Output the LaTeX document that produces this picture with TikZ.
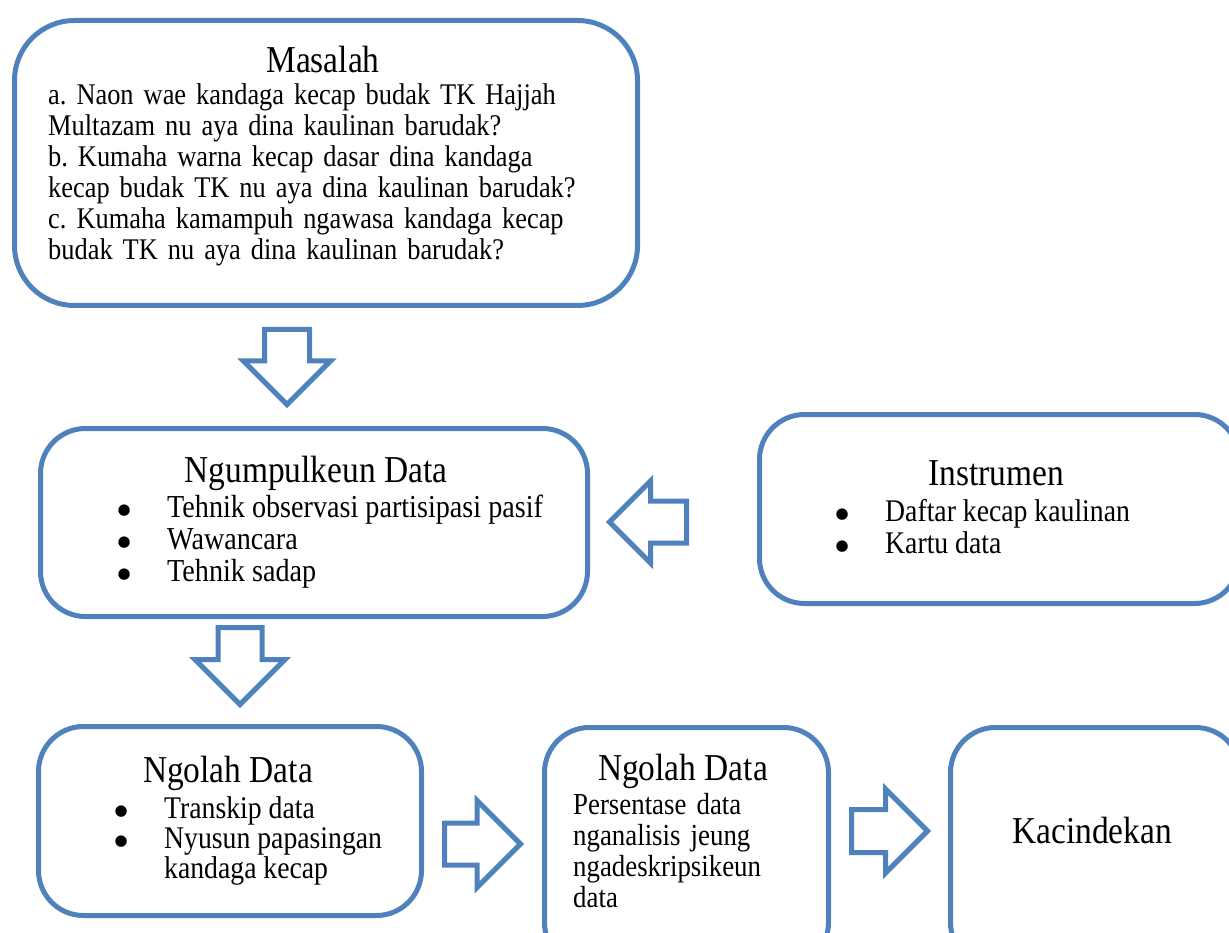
\documentclass[tikz,border=0pt]{standalone}
\usepackage{fontspec}
\setmainfont{Liberation Serif}[FakeStretch=0.88]
\newfontfamily\dotfont{DejaVu Sans}
\usetikzlibrary{shapes.arrows}
\definecolor{boxblue}{RGB}{79,129,189}

\tikzset{
	box/.style={draw=boxblue,line width=5pt,rounded corners=45pt,anchor=north west,inner sep=0pt},
	blk/.style={single arrow,draw=boxblue,line width=5pt,fill=white,inner xsep=0pt,anchor=tail,minimum width=0pt},
	ttl/.style={anchor=base,inner sep=0pt,font=\fontsize{38}{42}\selectfont},
	txt/.style={anchor=base west,inner sep=0pt,align=left}
}
\newcommand{\bul}{\makebox[0pt][c]{\raisebox{3pt}{\dotfont\fontsize{15}{15}\selectfont ●}}}
\newcommand{\blist}[1]{\begin{tabular}[t]{@{}p{43pt}@{}l@{}}#1\end{tabular}}

\begin{document}
\frenchspacing
\begin{tikzpicture}[x=1pt,y=-1pt]
	\useasboundingbox (0,0) rectangle (1229,933);

	\node[box,rounded corners=60pt,minimum width=623pt,minimum height=285pt] (masalah) at (12,18) {};
	\node[box,minimum width=547pt,minimum height=188pt] (ngumpul) at (38,426) {};
	\node[box,minimum width=480pt,minimum height=189pt] (instrumen) at (757,412) {};
	\node[box,minimum width=383pt,minimum height=189pt] (ngolah) at (36,724) {};
	\node[box,minimum width=284pt,minimum height=240pt] (analisis) at (542,725) {};
	\node[box,minimum width=290pt,minimum height=240pt] (kacindekan) at (948,725) {};

	\node[ttl] (masalahT) at (323,73) {Masalah};
	\node[txt,text width=570pt,font=\fontsize{30}{31}\selectfont] (masalahQ) at (48,105)
		{a. Naon wae kandaga kecap budak TK Hajjah\\
		Multazam nu aya dina kaulinan barudak?\\
		b. Kumaha warna kecap dasar dina kandaga\\
		kecap budak TK nu aya dina kaulinan barudak?\\
		c. Kumaha kamampuh ngawasa kandaga kecap\\
		budak TK nu aya dina kaulinan barudak?};

	\node[ttl] (ngumpulT) at (316,482) {Ngumpulkeun Data};
	\node[txt,font=\fontsize{32}{32}\selectfont] (ngumpulL) at (124,517)
		{\blist{\bul & Tehnik observasi partisipasi pasif\\
		\bul & Wawancara\\
		\bul & Tehnik sadap}};

	\node[ttl] (instrumenT) at (996,485) {Instrumen};
	\node[txt,font=\fontsize{31.5}{32}\selectfont] (instrumenL) at (842,521)
		{\blist{\bul & Daftar kecap kaulinan\\
		\bul & Kartu data}};

	\node[ttl] (ngolahT) at (228,782) {Ngolah Data};
	\node[txt,font=\fontsize{31.5}{30}\selectfont] (ngolahL) at (121,818)
		{\blist{\bul & Transkip data\\
		\bul & Nyusun papasingan\\
		& kandaga kecap}};

	\node[ttl] (analisisT) at (683,780) {Ngolah Data};
	\node[txt,text width=240pt,font=\fontsize{30.5}{31}\selectfont] (analisisL) at (573,814)
		{Persentase data\\
		nganalisis jeung\\
		ngadeskripsikeun\\
		data};

	\node[ttl] (kacindekanT) at (1092,843) {Kacindekan};

	% panah
	\node[blk,rotate=-90,minimum height=75pt,inner ysep=20pt,single arrow head extend=21pt] (p1) at (287,327) {};
	\node[blk,rotate=180,minimum height=77pt,inner ysep=18.5pt,single arrow head extend=20pt] (p2) at (689,522) {};
	\node[blk,rotate=-90,minimum height=77pt,inner ysep=19.5pt,single arrow head extend=23pt] (p3) at (240,625) {};
	\node[blk,minimum height=76pt,inner ysep=18.5pt,single arrow head extend=22.5pt] (p4) at (442,844) {};
	\node[blk,minimum height=76pt,inner ysep=19pt,single arrow head extend=20.5pt] (p5) at (849,831) {};
\end{tikzpicture}
\end{document}
